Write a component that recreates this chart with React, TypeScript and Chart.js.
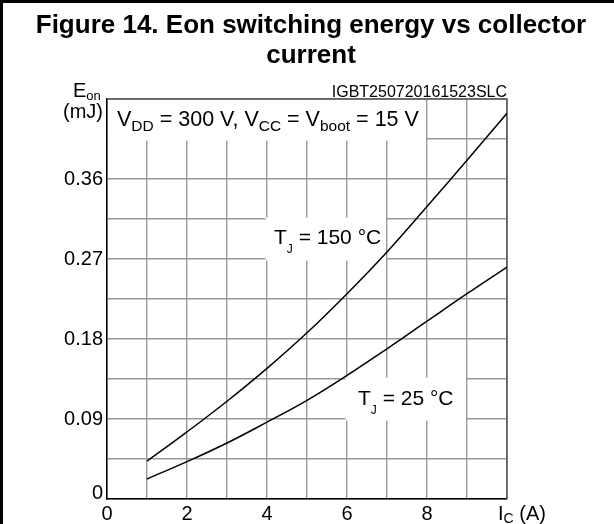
import { useEffect, useRef } from 'react';
import { Chart, registerables } from 'chart.js';

Chart.register(...registerables);

// ---- data ----
const currents = [1, 2, 3, 4, 5, 6, 7, 8, 9, 10];
const eon150 = [0.0425, 0.0755, 0.11, 0.147, 0.187, 0.231, 0.278, 0.329, 0.381, 0.434];
const eon25 = [0.0225, 0.042, 0.063, 0.0865, 0.111, 0.139, 0.169, 0.2, 0.231, 0.261];
const xTickLabels = ['0', '2', '4', '6', '8'];
const yTickLabels = ['0', '0.09', '0.18', '0.27', '0.36'];
const titleLines = ['Figure 14. Eon switching energy vs collector', 'current'];
const codeLabel = 'IGBT250720161523SLC';

const FONT = '"Liberation Sans", Arial, Helvetica, sans-serif';

type Seg = { t: string; sub?: boolean };

function drawRich(ctx: CanvasRenderingContext2D, x: number, y: number, segs: Seg[], size: number, subSize: number, drop: number) {
  let cx = x;
  ctx.textAlign = 'left';
  ctx.textBaseline = 'alphabetic';
  for (const s of segs) {
    ctx.font = `${s.sub ? subSize : size}px ${FONT}`;
    ctx.fillText(s.t, cx, s.sub ? y + drop : y);
    cx += ctx.measureText(s.t).width;
  }
  return cx;
}

const decorPlugin = {
  id: 'decor',
  beforeDatasetsDraw(chart: any) {
    const ctx: CanvasRenderingContext2D = chart.ctx;
    const xs = chart.scales.x;
    const ys = chart.scales.y;
    const px = (v: number) => xs.getPixelForValue(v);
    const py = (v: number) => ys.getPixelForValue(v);
    ctx.save();
    ctx.fillStyle = '#ffffff';
    // conditions box: top row, from axis to x=8
    ctx.fillRect(px(0) + 1, py(0.45) + 1, px(8) - 1 - (px(0) + 1), py(0.405) + 1.5 - (py(0.45) + 1));
    // Tj=150 box
    ctx.fillRect(px(4) - 1.5, py(0.315) - 1.5, px(7) - 1 - (px(4) - 1.5), py(0.27) + 1.5 - (py(0.315) - 1.5));
    // Tj=25 box
    ctx.fillRect(px(6) - 1.5, py(0.135) - 1.5, px(9) - 1 - (px(6) - 1.5), py(0.09) + 1.5 - (py(0.135) - 1.5));
    // top & right frame
    const a = chart.chartArea;
    ctx.strokeStyle = '#555555';
    ctx.lineWidth = 1.5;
    ctx.beginPath();
    ctx.moveTo(a.left, a.top);
    ctx.lineTo(a.right, a.top);
    ctx.lineTo(a.right, a.bottom);
    ctx.stroke();
    ctx.restore();
  },
  afterDraw(chart: any) {
    const ctx: CanvasRenderingContext2D = chart.ctx;
    const xs = chart.scales.x;
    const ys = chart.scales.y;
    const px = (v: number) => xs.getPixelForValue(v);
    const py = (v: number) => ys.getPixelForValue(v);
    ctx.save();
    ctx.fillStyle = '#000000';
    // outer frame lines
    ctx.fillRect(0, 0, chart.width, 3);
    ctx.fillRect(0, 0, 3, chart.height);
    // title
    ctx.font = `bold 26px ${FONT}`;
    ctx.textAlign = 'center';
    ctx.textBaseline = 'alphabetic';
    ctx.fillText(titleLines[0], 311, 33);
    ctx.fillText(titleLines[1], 311, 63);
    // code label
    ctx.font = `16px ${FONT}`;
    ctx.textAlign = 'right';
    ctx.fillText(codeLabel, px(10), py(0.45) - 2);
    // y axis title
    drawRich(ctx, 73, 97, [{ t: 'E' }, { t: 'on', sub: true }], 20, 13, 3);
    ctx.font = `20px ${FONT}`;
    ctx.textAlign = 'right';
    ctx.fillText('(mJ)', 103, 118);
    // x axis title
    drawRich(ctx, px(10) - 9, 520, [{ t: 'I' }, { t: 'C', sub: true }, { t: ' (A)' }], 20, 14, 3);
    // conditions
    drawRich(
      ctx,
      px(0.25),
      py(0.4275) + 7,
      [
        { t: 'V' }, { t: 'DD', sub: true }, { t: ' = 300 V, V' }, { t: 'CC', sub: true },
        { t: ' = V' }, { t: 'boot', sub: true }, { t: ' = 15 V' },
      ],
      21.5, 15.5, 5
    );
    drawRich(ctx, px(4.175), py(0.2925) + 5, [{ t: 'T' }, { t: 'J', sub: true }, { t: ' = 150 °C' }], 21, 12, 9);
    drawRich(ctx, px(6.275), py(0.1125) + 6, [{ t: 'T' }, { t: 'J', sub: true }, { t: ' = 25 °C' }], 21, 12, 9);
    ctx.restore();
  },
};

export default function App() {
  const ref = useRef<HTMLCanvasElement | null>(null);
  useEffect(() => {
    document.body.style.margin = '0';
    const canvas = ref.current;
    if (!canvas) return;
    const chart = new Chart(canvas, {
      type: 'line',
      data: {
        datasets: [
          {
            label: 'TJ = 150 °C',
            data: currents.map((c, i) => ({ x: c, y: eon150[i] })),
            borderColor: '#000000',
            borderWidth: 1.5,
            pointRadius: 0,
            fill: false,
            tension: 0.4,
          },
          {
            label: 'TJ = 25 °C',
            data: currents.map((c, i) => ({ x: c, y: eon25[i] })),
            borderColor: '#000000',
            borderWidth: 1.5,
            pointRadius: 0,
            fill: false,
            tension: 0.4,
          },
        ],
      },
      options: {
        responsive: false,
        animation: false,
        devicePixelRatio: 1,
        layout: { padding: { top: 99, right: 107, left: 0, bottom: 0 } },
        plugins: {
          legend: { display: false },
          tooltip: { enabled: false },
          title: { display: false },
        },
        scales: {
          x: {
            type: 'linear',
            min: 0,
            max: 10,
            afterFit(scale: any) {
              scale.height = 25;
            },
            ticks: {
              stepSize: 1,
              autoSkip: false,
              maxRotation: 0,
              padding: 3,
              color: '#000000',
              font: { family: FONT, size: 20 },
              callback: (_v: any, i: number) => (i % 2 === 0 && i / 2 < xTickLabels.length ? xTickLabels[i / 2] : ''),
            },
            grid: { color: '#999999', lineWidth: 1.4, drawTicks: false },
            border: { display: true, color: '#000000', width: 1.5 },
          },
          y: {
            type: 'linear',
            min: 0,
            max: 0.45,
            afterFit(scale: any) {
              scale.width = 107;
            },
            ticks: {
              stepSize: 0.045,
              autoSkip: false,
              padding: 4,
              color: '#000000',
              font: (c: any) =>
                c.index === 0 ? { family: FONT, size: 20, lineHeight: 0.6 } : { family: FONT, size: 20 },
              callback: (_v: any, i: number) => {
                if (i === 0) return [yTickLabels[0], ''];
                return i % 2 === 0 && i / 2 < yTickLabels.length ? yTickLabels[i / 2] : '';
              },
            },
            grid: { color: '#999999', lineWidth: 1.4, drawTicks: false },
            border: { display: true, color: '#000000', width: 1.5 },
          },
        },
      },
      plugins: [decorPlugin],
    } as any);
    return () => chart.destroy();
  }, []);
  return <canvas ref={ref} width={614} height={524} style={{ display: 'block', width: 614, height: 524 }} />;
}
